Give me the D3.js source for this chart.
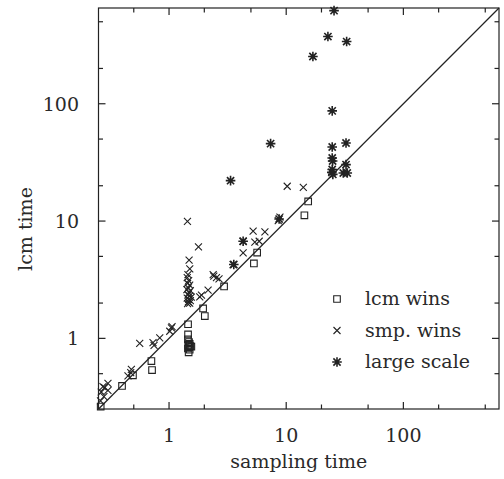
<!DOCTYPE html>
<html>
<head>
<meta charset="utf-8">
<script src="https://cdn.jsdelivr.net/npm/d3@7"></script>
<style>
  body { margin: 0; background: #fff; }
  text { font-family: "DejaVu Serif", "Liberation Serif", serif; fill: #2a2a2a; }
</style>
</head>
<body>
<svg id="chart" width="504" height="479"></svg>
<script>
// sampling time (x) vs lcm time (y), seconds

const lcmWinsX = [0.261, 0.397, 0.492, 0.707, 0.716, 1.453, 1.453, 1.45, 1.48, 1.50, 1.46, 1.52, 1.48, 1.55, 1.45, 1.50, 1.47, 1.953, 2.02, 2.95, 5.30, 5.65, 14.3, 15.4];
const lcmWinsY = [0.262, 0.393, 0.484, 0.641, 0.537, 1.32, 1.08, 0.98, 0.93, 0.90, 0.88, 0.86, 0.84, 0.85, 0.82, 0.80, 0.76, 1.80, 1.55, 2.77, 4.35, 5.39, 11.2, 14.7];

const smpWinsX = [0.260, 0.278, 0.264, 0.282, 0.301, 0.301, 0.273, 0.446, 0.471, 0.477, 0.562, 0.730, 0.745, 0.833, 1.014, 1.048, 1.061,
                  1.436, 1.783, 1.483, 1.503, 1.45, 1.43, 1.47, 1.44, 1.50, 1.46, 1.42, 1.52, 1.48, 1.45, 1.50, 1.55, 1.43, 1.47, 1.52, 1.46, 1.44, 1.50,
                  1.829, 1.892, 2.155, 2.38, 2.41, 2.54, 2.67, 3.52, 4.29, 5.22, 6.58, 5.40, 5.88, 4.29, 8.84, 8.55, 10.2, 14.0];
const smpWinsY = [0.293, 0.319, 0.349, 0.380, 0.361, 0.414, 0.388, 0.478, 0.511, 0.545, 0.907, 0.919, 0.872, 1.01, 1.15, 1.23, 1.26,
                  9.96, 6.03, 4.64, 3.92, 3.5, 3.3, 3.1, 2.95, 2.85, 2.7, 2.6, 2.55, 2.45, 2.35, 2.3, 2.25, 2.2, 2.15, 2.10, 2.05, 1.98, 2.0,
                  2.26, 2.34, 2.58, 3.50, 3.39, 3.29, 3.22, 4.26, 6.73, 8.19, 8.09, 6.60, 6.73, 5.36, 10.8, 10.1, 19.8, 19.4];

const largeX = [25.6, 22.7, 32.8, 16.9, 24.7, 7.36, 24.7, 32.4, 24.7, 24.9, 24.7, 24.5, 25.0, 32.4, 30.7, 33.2, 3.35, 4.29, 3.57, 8.7];
const largeY = [622, 374, 339, 253, 87, 45.7, 42.8, 46.3, 34.5, 32.5, 27.5, 26.0, 25.0, 30.3, 25.7, 25.7, 22.1, 6.73, 4.26, 10.4];

const majorTicks = [1, 10, 100];
const minorTicks = [0.5, 2, 5, 20, 50, 200, 500];
const legendLabels = ["lcm wins", "smp. wins", "large scale"];

const svg = d3.select("#chart");
const m = { left: 98.5, right: 499, top: 8, bottom: 409 };
const domain = [0.25, 655];

const x = d3.scaleLog().domain(domain).range([m.left, m.right]);
const y = d3.scaleLog().domain(domain).range([m.bottom, m.top]);

const ink = "#222";
const fontSize = 19;

// frame
svg.append("rect")
    .attr("x", m.left).attr("y", m.top)
    .attr("width", m.right - m.left).attr("height", m.bottom - m.top)
    .attr("fill", "none").attr("stroke", ink).attr("stroke-width", 1.2);

// ticks on all four sides, pointing inward
const ticks = g => {
    const all = majorTicks.map(v => ({ v, len: 7 })).concat(minorTicks.map(v => ({ v, len: 4.5 })));
    all.forEach(t => {
        g.append("line").attr("x1", x(t.v)).attr("x2", x(t.v)).attr("y1", m.bottom).attr("y2", m.bottom - t.len);
        g.append("line").attr("x1", x(t.v)).attr("x2", x(t.v)).attr("y1", m.top).attr("y2", m.top + t.len);
        g.append("line").attr("y1", y(t.v)).attr("y2", y(t.v)).attr("x1", m.left).attr("x2", m.left + t.len);
        g.append("line").attr("y1", y(t.v)).attr("y2", y(t.v)).attr("x1", m.right).attr("x2", m.right - t.len);
    });
};
svg.append("g").attr("stroke", ink).attr("stroke-width", 1.2).call(ticks);

// tick labels
svg.append("g").selectAll("text").data(majorTicks).join("text")
    .attr("x", d => x(d)).attr("y", 442)
    .attr("text-anchor", "middle").attr("font-size", fontSize)
    .text(d => d);
svg.append("g").selectAll("text").data(majorTicks).join("text")
    .attr("x", 79).attr("y", d => y(d) + 7)
    .attr("text-anchor", "end").attr("font-size", fontSize)
    .text(d => d);

// axis titles
svg.append("text")
    .attr("x", (m.left + m.right) / 2).attr("y", 468)
    .attr("text-anchor", "middle").attr("font-size", fontSize)
    .text("sampling time");
svg.append("text")
    .attr("transform", "translate(32," + 229 + ") rotate(-90)")
    .attr("text-anchor", "middle").attr("font-size", fontSize)
    .text("lcm time");

// diagonal y = x
svg.append("line")
    .attr("x1", x(domain[0])).attr("y1", y(domain[0]))
    .attr("x2", x(domain[1])).attr("y2", y(domain[1]))
    .attr("stroke", ink).attr("stroke-width", 1.2);

// marker paths
const squarePath = r => "M" + -r + "," + -r + "H" + r + "V" + r + "H" + -r + "Z";
const timesPath = r => "M" + -r + "," + -r + "L" + r + "," + r + "M" + -r + "," + r + "L" + r + "," + -r;
const starPath = r => timesPath(r * 0.75) + "M" + -r + ",0H" + r + "M0," + -r + "V" + r;

const plot = svg.append("g");

plot.append("g").selectAll("path").data(d3.range(lcmWinsX.length)).join("path")
    .attr("transform", i => "translate(" + x(lcmWinsX[i]) + "," + y(lcmWinsY[i]) + ")")
    .attr("d", squarePath(3.3))
    .attr("fill", "none").attr("stroke", ink).attr("stroke-width", 1.1);

plot.append("g").selectAll("path").data(d3.range(smpWinsX.length)).join("path")
    .attr("transform", i => "translate(" + x(smpWinsX[i]) + "," + y(smpWinsY[i]) + ")")
    .attr("d", timesPath(3.5))
    .attr("fill", "none").attr("stroke", ink).attr("stroke-width", 1.1);

plot.append("g").selectAll("path").data(d3.range(largeX.length)).join("path")
    .attr("transform", i => "translate(" + x(largeX[i]) + "," + y(largeY[i]) + ")")
    .attr("d", starPath(4.8))
    .attr("fill", "none").attr("stroke", ink).attr("stroke-width", 1.6);

// legend
const legendPaths = [squarePath(3.3), timesPath(3.5), starPath(4.8)];
const legendWidths = [1.1, 1.1, 1.6];
const legend = svg.append("g");
legendLabels.forEach((label, i) => {
    const ly = 299 + i * 31.5;
    legend.append("path")
        .attr("transform", "translate(337," + ly + ")")
        .attr("d", legendPaths[i])
        .attr("fill", "none").attr("stroke", ink).attr("stroke-width", legendWidths[i]);
    legend.append("text")
        .attr("x", 365).attr("y", ly + 6)
        .attr("font-size", fontSize)
        .text(label);
});
</script>
</body>
</html>
